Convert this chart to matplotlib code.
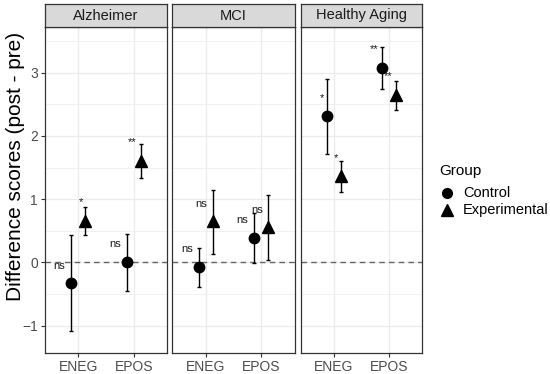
import matplotlib
matplotlib.use("Agg")
import matplotlib.pyplot as plt
from matplotlib.lines import Line2D
import numpy as np

plt.rcParams['font.family'] = ['Liberation Sans', 'DejaVu Sans']

panels = ["Alzheimer", "MCI", "Healthy Aging"]
conditions = ["ENEG", "EPOS"]
groups = ["Control", "Experimental"]

# mean, lower, upper per panel -> [ENEG, EPOS]
ctrl_mean = [[-0.33, 0.00], [-0.07, 0.385], [2.31, 3.07]]
ctrl_low = [[-1.09, -0.45], [-0.38, -0.01], [1.72, 2.74]]
ctrl_high = [[0.43, 0.45], [0.23, 0.78], [2.90, 3.40]]

exp_mean = [[0.65, 1.60], [0.66, 0.56], [1.37, 2.65]]
exp_low = [[0.43, 1.33], [0.14, 0.04], [1.11, 2.41]]
exp_high = [[0.875, 1.87], [1.14, 1.06], [1.61, 2.86]]

ctrl_sig = [["ns", "ns"], ["ns", "ns"], ["*", "**"]]
exp_sig = [["*", "**"], ["ns", "ns"], ["*", "**"]]

# label anchor positions (x in category units, y in data units)
ctrl_lab_x = [[0.652, 1.662], [0.668, 1.652], [0.792, 1.729]]
ctrl_lab_y = [[-0.05, 0.29], [0.21, 0.67], [2.64, 3.41]]
exp_lab_x = [[1.044, 1.974], [0.919, 1.92], [1.04, 1.989]]
exp_lab_y = [[0.99, 1.94], [0.93, 0.83], [1.69, 2.98]]

W, H = 550, 374
fig = plt.figure(figsize=(W / 100, H / 100), dpi=100)

lefts = [45, 172, 300.7]
widths = [122, 123, 121.3]
top_px, bot_px, strip_top = 27, 353, 4
dodge = 0.125
x = np.arange(1, len(conditions) + 1)


def sig_text(ax, xx, yy, s):
    # asterisks sit high in the text box; nudge them down so the glyph centre matches
    dy = -1.8 if s.startswith('*') else 0
    ax.annotate(s, (xx, yy), xytext=(0, dy), textcoords='offset points',
                ha='center', va='center', fontsize=8, color='#1A1A1A', zorder=5)


for i, name in enumerate(panels):
    ax = fig.add_axes([lefts[i] / W, 1 - bot_px / H, widths[i] / W, (bot_px - top_px) / H])
    ax.set_xlim(0.4, 2.6)
    ax.set_ylim(-1.43, 3.72)
    ax.set_yticks([-1, 0, 1, 2, 3])
    ax.set_yticks([-0.5, 0.5, 1.5, 2.5, 3.5], minor=True)
    ax.set_xticks(x)
    ax.set_xticklabels(conditions)
    ax.grid(True, which='major', color='#EBEBEB', lw=0.9, zorder=0)
    ax.grid(True, which='minor', axis='y', color='#EBEBEB', lw=0.5, zorder=0)
    ax.set_axisbelow(True)
    for s in ax.spines.values():
        s.set_color('#333333')
        s.set_linewidth(0.9)
    ax.tick_params(which='major', length=3, width=0.8, color='#333333',
                   labelsize=10, labelcolor='#4D4D4D', pad=2)
    ax.tick_params(which='minor', length=0)
    if i > 0:
        ax.tick_params(axis='y', left=False, labelleft=False)

    ax.axhline(0, color='#666666', lw=1.0, ls=(0, (4, 3)), zorder=1)

    cm = np.array(ctrl_mean[i]); cl = np.array(ctrl_low[i]); ch = np.array(ctrl_high[i])
    em = np.array(exp_mean[i]); el = np.array(exp_low[i]); eh = np.array(exp_high[i])
    ax.errorbar(x - dodge, cm, yerr=[cm - cl, ch - cm], fmt='none', ecolor='black',
                elinewidth=1.0, capsize=1.5, capthick=1.0, zorder=3)
    ax.errorbar(x + dodge, em, yerr=[em - el, eh - em], fmt='none', ecolor='black',
                elinewidth=1.0, capsize=1.5, capthick=1.0, zorder=3)
    ax.plot(x - dodge, cm, 'o', color='black', ms=7.5, zorder=4)
    ax.plot(x + dodge, em, '^', color='black', ms=9, zorder=4)

    for j in range(len(conditions)):
        sig_text(ax, ctrl_lab_x[i][j], ctrl_lab_y[i][j], ctrl_sig[i][j])
        sig_text(ax, exp_lab_x[i][j], exp_lab_y[i][j], exp_sig[i][j])

    # strip
    sax = fig.add_axes([lefts[i] / W, 1 - top_px / H, widths[i] / W, (top_px - strip_top) / H])
    sax.set_xticks([]); sax.set_yticks([])
    sax.set_facecolor('#D9D9D9')
    for s in sax.spines.values():
        s.set_color('#333333')
        s.set_linewidth(0.9)
    sax.text(0.5, 0.5, name, ha='center', va='center', fontsize=10.5, color='#1A1A1A',
             transform=sax.transAxes)

fig.text(16 / W, 1 - 166 / H, "Difference scores (post - pre)", rotation=90,
         ha='center', va='center', fontsize=15, color='black')

# legend
fig.text(439 / W, 1 - 171 / H, "Group", ha='left', va='center', fontsize=11, color='black')
leg_y = [193, 210]
leg_m = ['o', '^']
leg_ms = [7, 9]
for k, g in enumerate(groups):
    fig.add_artist(Line2D([447 / W], [1 - leg_y[k] / H], marker=leg_m[k], color='black',
                          ms=leg_ms[k], transform=fig.transFigure))
    fig.text(463 / W, 1 - leg_y[k] / H, g, ha='left', va='center', fontsize=10.5, color='black')

fig.savefig("out.png", dpi=100)
